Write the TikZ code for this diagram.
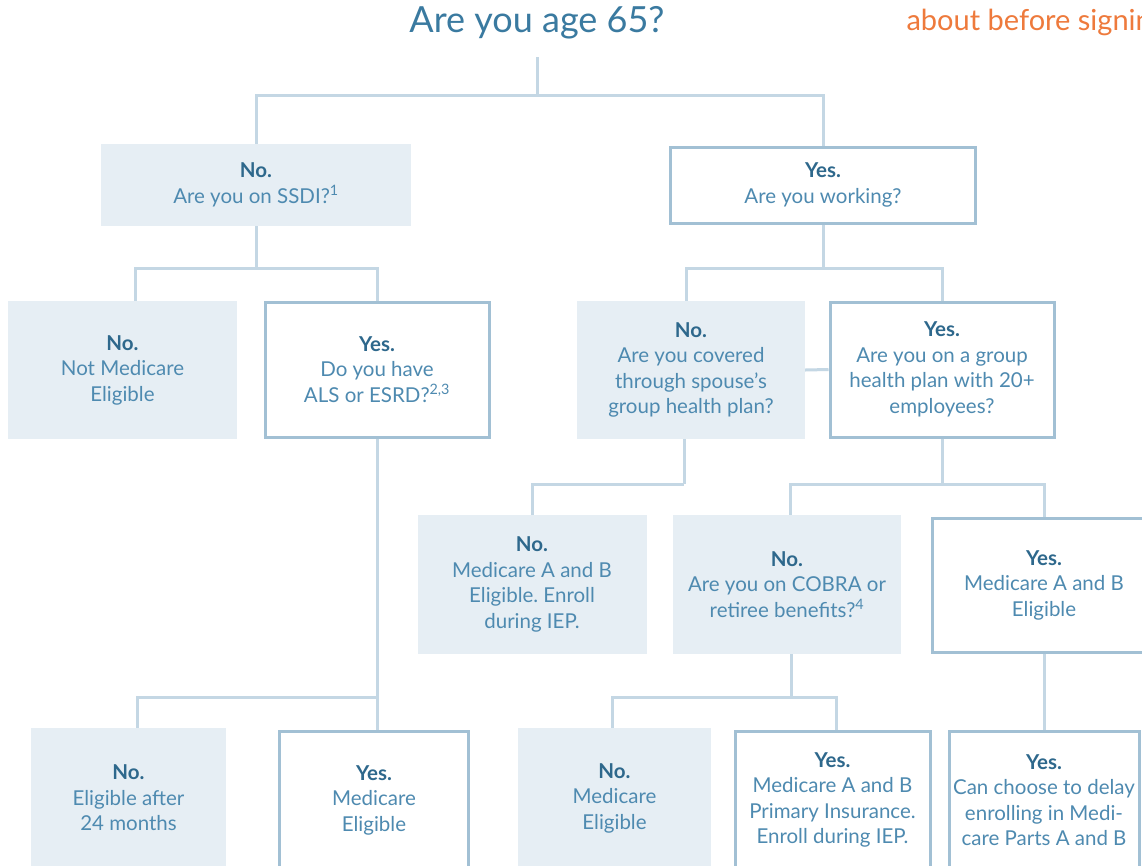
\documentclass[tikz,border=0pt]{standalone}
\usepackage{fontspec}
\setmainfont{Lato}
\frenchspacing
\definecolor{titlec}{RGB}{58,122,160}
\definecolor{headc}{RGB}{46,104,140}
\definecolor{bodyc}{RGB}{78,138,176}
\definecolor{fillc}{RGB}{230,238,244}
\definecolor{borderc}{RGB}{162,192,212}
\definecolor{linec}{RGB}{196,215,228}
\definecolor{orangec}{RGB}{238,122,60}
\newcommand{\hd}[1]{{\bfseries\color{headc}#1}}
\begin{document}
\begin{tikzpicture}[x=1pt,y=-1pt,
  base/.style={rectangle, inner sep=0pt, align=center, text=bodyc,
    font=\fontsize{20.5}{25.5}\selectfont},
  nobox/.style={base, fill=fillc},
  yesbox/.style={base, draw=borderc, line width=3pt, fill=white},
  conn/.style={draw=linec, line width=3pt}]
\useasboundingbox (0,0) rectangle (1142,865);
\clip (0,0) rectangle (1142,865);
\fill[white] (0,0) rectangle (1142,865);

\node[text=titlec, font=\fontsize{36}{40}\selectfont] (title) at (537,23) {Are you age 65?};
\node[anchor=west, text=orangec, font=\fontsize{29}{32}\selectfont] (note) at (903,22) {about before signing};

\node[nobox, minimum width=310, minimum height=82] (A) at (256,185) {\hd{No.}\\Are you on SSDI?\textsuperscript{1}};
\node[yesbox, minimum width=305, minimum height=76] (B) at (823,185) {\hd{Yes.}\\Are you working?};
\node[nobox, minimum width=229, minimum height=138] (C) at (122.5,370) {\hd{No.}\\Not Medicare\\Eligible};
\node[yesbox, minimum width=224, minimum height=135] (D) at (377,369.5) {\hd{Yes.}\\Do you have\\ALS or ESRD?\textsuperscript{2,3}};
\node[nobox, minimum width=228, minimum height=138] (G) at (691,370) {\hd{No.}\\Are you covered\\through spouse’s\\group health plan?};
\node[yesbox, minimum width=224, minimum height=135] (H) at (942,369.5) {\hd{Yes.}\\Are you on a group\\health plan with 20+\\employees?};
\node[nobox, minimum width=229, minimum height=139] (I) at (532,584.5) {\hd{No.}\\Medicare A and B\\Eligible. Enroll\\during IEP.};
\node[nobox, minimum width=228, minimum height=139] (J) at (787,584.5) {\hd{No.}\\Are you on COBRA or\\retiree benefits?\textsuperscript{4}};
\node[yesbox, minimum width=224, minimum height=134] (K) at (1044,585) {\hd{Yes.}\\Medicare A and B\\Eligible};
\node[nobox, minimum width=195, minimum height=140] (E) at (128.5,798) {\hd{No.}\\Eligible after\\24 months};
\node[yesbox, minimum width=189, minimum height=138] (F) at (374,800) {\hd{Yes.}\\Medicare\\Eligible};
\node[nobox, minimum width=193, minimum height=140] (L) at (614.5,798) {\hd{No.}\\Medicare\\Eligible};
\node[yesbox, minimum width=195, minimum height=138] (M) at (832.5,800) {\hd{Yes.}\\Medicare A and B\\Primary Insurance.\\Enroll during IEP.};
\node[yesbox, minimum width=190, minimum height=138] (N) at (1044,800) {\hd{Yes.}\\Can choose to delay\\enrolling in Medi-\\care Parts A and B};

\coordinate (t0) at (537,57);
\coordinate (j1) at (537,95);
\coordinate (jA) at (256,268);
\coordinate (jB) at (823,268);
\coordinate (jD) at (377,697);
\coordinate (jG) at (684,484);
\coordinate (jH) at (942,484);
\coordinate (jJ) at (791,697);

\draw[conn] (t0) -- (j1);
\draw[conn] (A.north) |- (j1) -| (B.north);
\draw[conn] (A.south) -- (jA);
\draw[conn] ([xshift=12.5pt]C.north) |- (jA) -| (D.north);
\draw[conn] (D.south) -- (D.south |- F.north);
\draw[conn] ([xshift=8.5pt]E.north) |- (jD);
\draw[conn] (B.south) -- (jB);
\draw[conn] ([xshift=-5pt]G.north) |- (jB) -| (H.north);
\draw[conn] (G.east) -- (H.west);
\draw[conn] ([xshift=-7pt]G.south) -- (jG);
\draw[conn] (I.north) |- (jG);
\draw[conn] (H.south) -- (jH);
\draw[conn] ([xshift=3pt]J.north) |- (jH) -| (K.north);
\draw[conn] ([xshift=4pt]J.south) -- (jJ);
\draw[conn] ([xshift=-2.5pt]L.north) |- (jJ) -| ([xshift=3.5pt]M.north);
\draw[conn] (K.south) -- (N.north);
\end{tikzpicture}
\end{document}
